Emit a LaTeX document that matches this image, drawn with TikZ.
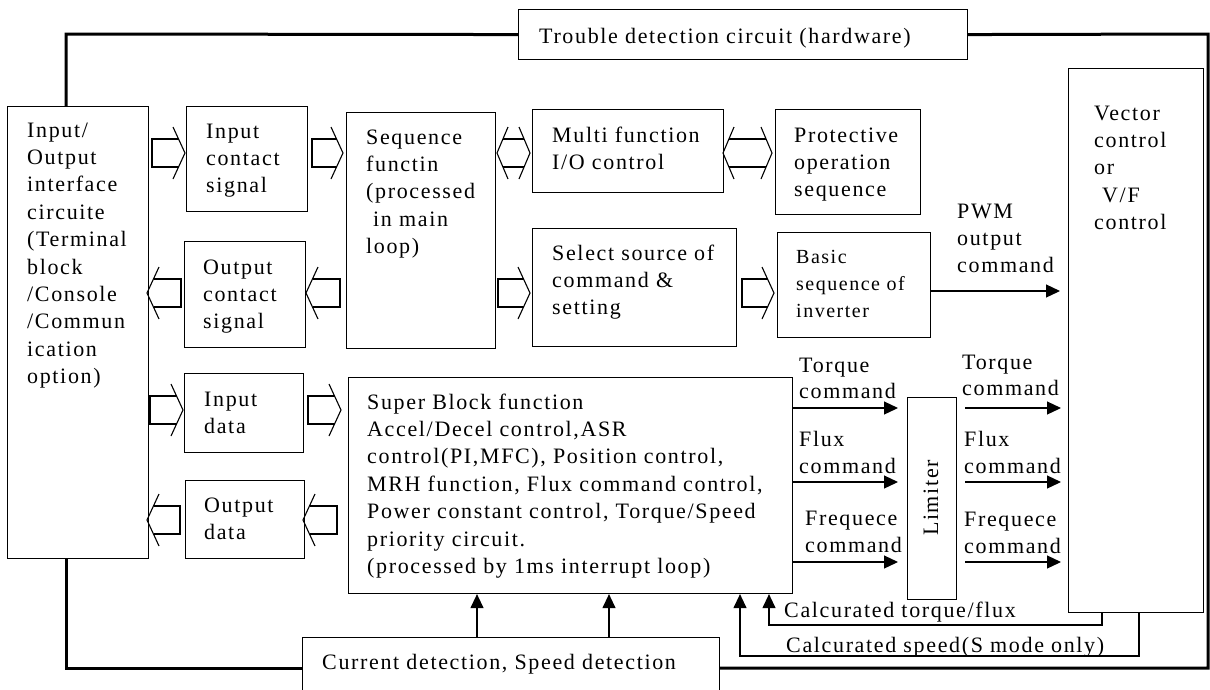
\documentclass[tikz,border=0pt]{standalone}
\usepackage{fontspec}
\setmainfont{Liberation Serif}[LetterSpace=7.5]
\usetikzlibrary{arrows.meta}
\newcommand\mybox[5]{\node[box, minimum width={#4-#2}, minimum height={#5-#3}] (#1) at (#2,#3) {};}
\newcommand\harR[3]{\draw[hol] ({#2-6.5},{#3-14}) -- (#1,{#3-14}) -- (#1,{#3+14}) -- ({#2-6.5},{#3+14});
  \draw[hol] ({#2-12},{#3-26}) -- (#2,#3) -- ({#2-12},{#3+26});}
\newcommand\harL[3]{\draw[hol] ({#2+6.5},{#3-14}) -- (#1,{#3-14}) -- (#1,{#3+14}) -- ({#2+6.5},{#3+14});
  \draw[hol] ({#2+12},{#3-26}) -- (#2,#3) -- ({#2+12},{#3+26});}
\newcommand\harD[3]{\draw[hol] ({#1+11},{#3-26}) -- (#1,#3) -- ({#1+11},{#3+26});
  \draw[hol] ({#2-11},{#3-26}) -- (#2,#3) -- ({#2-11},{#3+26});
  \draw[hol] ({#1+6},{#3-14}) -- ({#2-6},{#3-14});
  \draw[hol] ({#1+6},{#3+14}) -- ({#2-6},{#3+14});}
\begin{document}
\begin{tikzpicture}[x=1pt,y=-1pt,
  box/.style={draw, line width=1.1pt, inner sep=0pt, anchor=north west},
  txt/.style={anchor=base west, align=left, inner sep=0pt, font=\fontsize{22}{27.4}\selectfont},
  thk/.style={line width=3pt},
  arr/.style={line width=1.2pt, -{Triangle[length=14pt,width=13pt]}},
  hol/.style={line width=1.1pt}]
\useasboundingbox (0,0) rectangle (1210,689);
% boxes
\mybox{trouble}{518}{9}{967}{59}
\mybox{io}{7}{106}{148}{558}
\mybox{inc}{186}{106}{307}{211}
\mybox{seq}{346}{112}{495}{348}
\mybox{multi}{532}{109}{723}{192}
\mybox{prot}{775}{109}{920}{214}
\mybox{outc}{184}{241}{305}{347}
\mybox{sel}{532}{228}{736}{346}
\mybox{basic}{777}{232}{930}{337}
\mybox{vec}{1068}{68}{1203}{612}
\mybox{ind}{184}{373}{303}{452}
\mybox{outd}{185}{480}{304}{558}
\mybox{sup}{348}{377}{792}{593}
\mybox{lim}{907}{397}{956}{599}
\mybox{cur}{302}{637}{719}{705}
% texts (anchor = baseline of the last line)
\node[txt] (t-trouble) at (539,43) {Trouble detection circuit (hardware)};
\node[txt] (t-io) at (27,383.6) {Input/\\Output\\interface\\circuite\\(Terminal\\block\\/Console\\/Commun\\ication\\option)};
\node[txt] (t-inc) at (206,192.8) {Input\\contact\\signal};
\node[txt] (t-seq) at (366,253.6) {Sequence\\functin\\(processed\\\hspace*{7pt}in main\\loop)};
\node[txt] (t-multi) at (552,169.4) {Multi function\\I/O control};
\node[txt] (t-prot) at (794,196.8) {Protective\\operation\\sequence};
\node[txt] (t-outc) at (203,328.8) {Output\\contact\\signal};
\node[txt] (t-sel) at (552,314.8) {Select source of\\command \&\\setting};
\node[txt, font=\fontsize{20}{27.4}\selectfont] (t-basic) at (796,317.8) {Basic\\sequence of\\inverter};
\node[txt] (t-pwm) at (957,272.8) {PWM\\output\\command};
\node[txt] (t-vec) at (1094,229.6) {Vector\\control\\or\\\hspace*{8pt}V/F\\control};
\node[txt] (t-ind) at (204,433.4) {Input\\data};
\node[txt] (t-outd) at (204,539.4) {Output\\data};
\node[txt] (t-sup) at (367,573.4) {Super Block function\\Accel/Decel control,ASR\\control(PI,MFC), Position control,\\MRH function, Flux command control,\\Power constant control, Torque/Speed\\priority circuit.\\(processed by 1ms interrupt loop)};
\node[txt, font=\fontsize{22}{26}\selectfont] (t-tq1) at (799,398) {Torque\\command};
\node[txt, font=\fontsize{22}{27}\selectfont] (t-fx1) at (799,473) {Flux\\command};
\node[txt, font=\fontsize{22}{27}\selectfont] (t-fr1) at (805,552) {Frequece\\command};
\node[txt, font=\fontsize{22}{26}\selectfont] (t-tq2) at (962,395) {Torque\\command};
\node[txt, font=\fontsize{22}{27}\selectfont] (t-fx2) at (964,473) {Flux\\command};
\node[txt, font=\fontsize{22}{27}\selectfont] (t-fr2) at (964,553) {Frequece\\command};
\node[txt, anchor=center, rotate=90] (t-lim) at (931,498) {Limiter};
\node[txt] (t-ctf) at (784,617) {Calcurated torque/flux};
\node[txt] (t-csp) at (786,652) {Calcurated speed(S mode only)};
\node[txt] (t-cur) at (322,669) {Current detection, Speed detection};
% thick lines
\coordinate (tl) at (66,34); \coordinate (tr) at (1208,34);
\coordinate (br) at (1208,668); \coordinate (bl) at (66,668);
\draw[thk] (io.north -| tl) -- (tl) -- (trouble.west);
\draw[thk] (trouble.east) -- (tr) -- (br) -- (cur.east |- br);
\draw[thk] (io.south -| bl) -- (bl) -- (cur.west |- bl);
% hollow arrows
\harR{152}{185}{153}
\harR{312}{343}{153}
\harD{497}{530}{153}
\harD{723}{772}{153}
\harL{181}{147}{293}
\harL{340}{306}{293}
\harR{498}{530}{293}
\harR{742}{774}{293}
\harR{150}{183}{410}
\harR{308}{341}{410}
\harL{180}{147}{520}
\harL{337}{303}{520}
% line arrows
\coordinate (pwm) at (1060,291);
\draw[arr] (basic.east |- pwm) -- (pwm);
\foreach \yy in {408,482,562}{
  \coordinate (a) at (0,\yy);
  \draw[arr] (sup.east |- a) -- ([xshift=-9pt]lim.west |- a);
  \draw[arr] ([xshift=8pt]lim.east |- a) -- ([xshift=-7pt]vec.west |- a);
}
\coordinate (f1) at (1102,625); \coordinate (f1a) at (769,625);
\coordinate (f2) at (1139,656); \coordinate (f2a) at (740,656);
\draw[arr] (vec.south -| f1) -- (f1) -- (f1a) -- (sup.south -| f1a);
\draw[arr] (vec.south -| f2) -- (f2) -- (f2a) -- (sup.south -| f2a);
\coordinate (c1) at (477,0); \coordinate (c2) at (609,0);
\draw[arr] (cur.north -| c1) -- (sup.south -| c1);
\draw[arr] (cur.north -| c2) -- (sup.south -| c2);
\end{tikzpicture}
\end{document}
